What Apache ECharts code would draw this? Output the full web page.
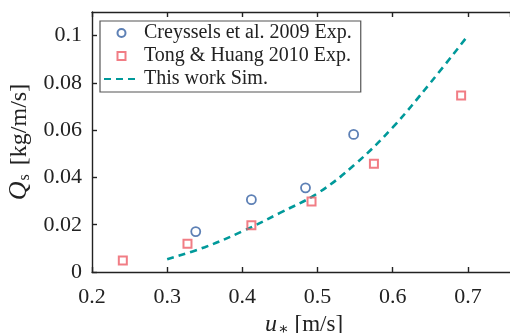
<!DOCTYPE html>
<html>
<head>
<meta charset="utf-8">
<script src="https://cdn.jsdelivr.net/npm/echarts@6/dist/echarts.min.js"></script>
<style>
  html, body { margin: 0; padding: 0; background: #fff; }
  #chart { width: 510px; height: 333px; }
</style>
</head>
<body>
<div id="chart"></div>
<script>
// Saltation flux Q_s versus friction velocity u_*
const creysselsU = [0.338, 0.412, 0.484, 0.548];
const creysselsQ = [0.0171, 0.0306, 0.0356, 0.0582];

const tongU = [0.241, 0.327, 0.412, 0.492, 0.575, 0.691];
const tongQ = [0.0049, 0.0120, 0.0198, 0.0298, 0.0458, 0.0747];

const simU = [0.30, 0.35, 0.40, 0.45, 0.50, 0.55, 0.60, 0.65, 0.70];
const simQ = [0.0054, 0.0105, 0.0172, 0.0250, 0.0333, 0.0456, 0.0612, 0.0800, 0.1000];

const seriesNames = ['Creyssels et al. 2009 Exp.', 'Tong & Huang 2010 Exp.', 'This work Sim.'];

const zip = (xs, ys) => xs.map((x, i) => [x, ys[i]]);

const serif = '"Liberation Serif", "DejaVu Serif", serif';
const axisColor = '#222';
const textColor = '#222';
const blue = '#3460a2';
const red = '#ee5c66';
const teal = '#00999a';

const chart = echarts.init(document.getElementById('chart'), null, { renderer: 'canvas' });

const xCommon = {
  type: 'value',
  min: 0.2,
  max: 0.756,
  interval: 0.1,
  axisLine: { show: true, onZero: false, lineStyle: { color: axisColor, width: 1.4 } },
  axisTick: { show: true, inside: true, length: 5, lineStyle: { color: axisColor, width: 1.4 } },
  splitLine: { show: false }
};

chart.setOption({
  animation: false,
  backgroundColor: '#fff',
  grid: { left: 92, top: 12, right: 0, bottom: 61, containLabel: false, outerBoundsMode: 'none' },
  legend: {
    orient: 'vertical',
    left: 100,
    top: 21,
    width: 259,
    padding: [2, 9, 3, 3],
    itemWidth: 35,
    itemHeight: 8,
    itemGap: 3,
    symbolKeepAspect: true,
    borderColor: '#555',
    borderWidth: 1.2,
    backgroundColor: '#fff',
    textStyle: { fontFamily: serif, fontSize: 20, color: textColor },
    data: [
      { name: seriesNames[0], icon: 'circle' },
      { name: seriesNames[1], icon: 'path://M0,0L10,0L10,10L0,10Z' },
      { name: seriesNames[2], itemStyle: { opacity: 0 } }
    ]
  },
  xAxis: [
    Object.assign({}, xCommon, {
      position: 'bottom',
      axisLabel: {
        show: true, margin: 14, fontFamily: serif, fontSize: 22, color: textColor,
        showMaxLabel: false
      },
      name: '{u|u}{st|∗} [m/s]',
      nameLocation: 'middle',
      nameGap: 33,
      nameTextStyle: {
        fontFamily: serif, fontSize: 23, color: textColor, padding: [0, 0, 0, 6],
        rich: {
          u: { fontFamily: serif, fontStyle: 'italic', fontSize: 24, color: textColor },
          st: { fontFamily: serif, fontSize: 16, color: textColor, verticalAlign: 'bottom', padding: [9, 0, 0, 1] }
        }
      }
    }),
    Object.assign({}, xCommon, {
      position: 'top',
      axisLabel: { show: false }
    })
  ],
  yAxis: {
    type: 'value',
    min: 0,
    max: 0.11,
    interval: 0.02,
    axisLine: { show: true, onZero: false, lineStyle: { color: axisColor, width: 1.4 } },
    axisTick: { show: true, inside: true, length: 5, lineStyle: { color: axisColor, width: 1.4 } },
    splitLine: { show: false },
    axisLabel: {
      margin: 10, fontFamily: serif, fontSize: 22, color: textColor,
      showMaxLabel: false
    },
    name: '{q|Q}{s|s} [kg/m/s]',
    nameLocation: 'middle',
    nameGap: 56,
    nameRotate: 90,
    nameTextStyle: {
      fontFamily: serif, fontSize: 24, color: textColor,
      rich: {
        q: { fontFamily: serif, fontStyle: 'italic', fontSize: 26, color: textColor },
        s: { fontFamily: serif, fontSize: 16, color: textColor, verticalAlign: 'bottom', padding: [7, 3, 0, 1] }
      }
    }
  },
  series: [
    {
      name: seriesNames[0],
      type: 'scatter',
      xAxisIndex: 0,
      data: zip(creysselsU, creysselsQ),
      symbol: 'circle',
      symbolSize: 9,
      itemStyle: { color: 'rgba(255,255,255,0)', borderColor: blue, borderWidth: 1.8 },
      z: 3
    },
    {
      name: seriesNames[1],
      type: 'scatter',
      xAxisIndex: 0,
      data: zip(tongU, tongQ),
      symbol: 'rect',
      symbolSize: 8,
      itemStyle: { color: 'rgba(255,255,255,0)', borderColor: red, borderWidth: 2 },
      z: 3
    },
    {
      name: seriesNames[2],
      type: 'line',
      xAxisIndex: 0,
      data: zip(simU, simQ),
      smooth: 0.4,
      showSymbol: false,
      symbol: 'none',
      lineStyle: { color: teal, width: 2.6, type: [7, 5] },
      itemStyle: { color: teal },
      z: 2
    }
  ]
});
</script>
</body>
</html>
